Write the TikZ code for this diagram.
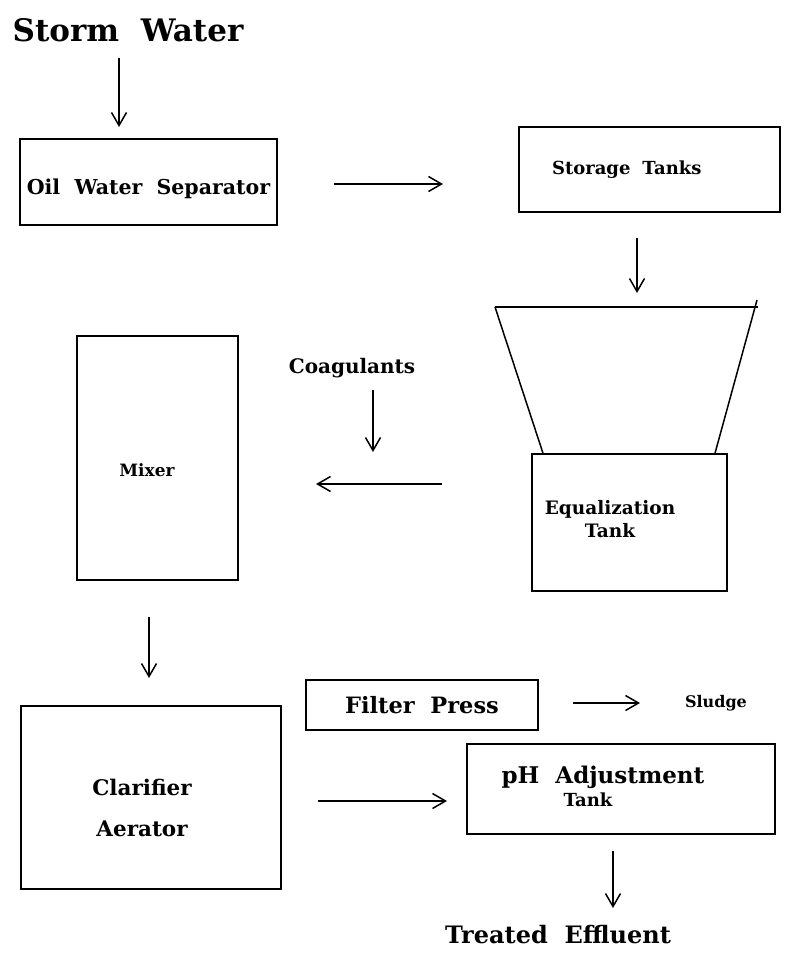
\documentclass[tikz,border=0pt]{standalone}
\usepackage{fontspec}
\setmainfont{DejaVu Serif}
\usetikzlibrary{arrows.meta}

\begin{document}
\begin{tikzpicture}[x=1pt, y=-1pt,
        line width=1.5pt,
        unit/.style={draw, rectangle, inner sep=0pt, align=center},
        flow/.style={-{Straight Barb[length=13pt, width=15pt, line width=1.5pt]}},
        txt/.style={font=\bfseries\fontsize{#1}{#1}\selectfont, inner sep=0pt, align=center}]
    \useasboundingbox (0,0) rectangle (795,957);

    % title
    \node[txt=31] (storm) at (128,30) {Storm~~Water};

    % boxes
    \node[unit, minimum width=257pt, minimum height=86pt, txt=20.5, text height=29pt] (sep) at (148.5,182) {Oil~~Water~~Separator};
    \node[unit, minimum width=261pt, minimum height=85pt, txt=18, align=left,
          text width=195pt, inner xsep=33pt] (tanks) at (649.5,169.5) {Storage~~Tanks};
    \node[unit, minimum width=195pt, minimum height=137pt] (eq) at (629.5,522.5) {};
    \node[txt=18.5] (eqtext) at (610,519) {Equalization\\[4pt]Tank};
    \node[unit, minimum width=161pt, minimum height=244pt] (mixer) at (157.5,458) {};
    \node[txt=17] (mixertext) at (147,470) {Mixer};
    \node[unit, minimum width=260pt, minimum height=183pt] (clar) at (151,797.5) {};
    \node[txt=21.5] (clartext) at (142,808) {Clarifier\\[20pt]Aerator};
    \node[unit, minimum width=232pt, minimum height=50pt, txt=22.5] (filter) at (422,705) {Filter~~Press};
    \node[unit, minimum width=308pt, minimum height=90pt] (ph) at (621,789) {};
    \node[txt=23] (phtext) at (603,777) {pH~~Adjustment};
    \node[txt=18] (phtank) at (588,800) {Tank};

    % free labels
    \node[txt=20] (coag) at (352,368) {Coagulants};
    \node[txt=16] (sludge) at (716,703) {Sludge};
    \node[txt=24] (effluent) at (558,935) {Treated~~Effluent};

    % funnel on top of the equalization tank
    \coordinate (ftl) at (495,307);
    \coordinate (ftr) at (758,307);
    \draw (ftl) -- (ftr);
    \draw (ftl) -- (eq.north west -| 543,0);
    \draw (757,300) -- (eq.north east -| 715,0);

    % connector ends
    \coordinate (a1s) at (119,58);   \coordinate (a1e) at (119,127);
    \coordinate (a2s) at (334,184);  \coordinate (a2e) at (443,184);
    \coordinate (a3s) at (637,238);  \coordinate (a3e) at (637,293);
    \coordinate (a4s) at (373,390);  \coordinate (a4e) at (373,452);
    \coordinate (a5s) at (442,484);  \coordinate (a5e) at (316,484);
    \coordinate (a6s) at (149,617);  \coordinate (a6e) at (149,678);
    \coordinate (a7s) at (573,703);  \coordinate (a7e) at (640,703);
    \coordinate (a8s) at (318,801);  \coordinate (a8e) at (447,801);
    \coordinate (a9s) at (613,851);  \coordinate (a9e) at (613,908);

    \foreach \i in {1,...,9}
      \draw[flow] (a\i s) -- (a\i e);
\end{tikzpicture}
\end{document}
